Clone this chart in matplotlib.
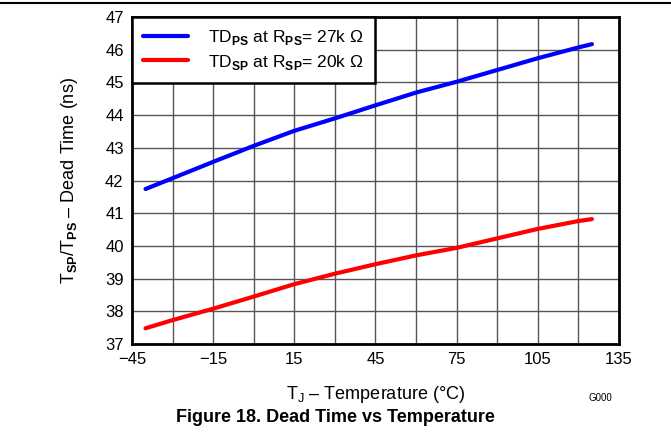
import numpy as np
import matplotlib
matplotlib.use('Agg')
from matplotlib import pyplot as plt
from matplotlib.lines import Line2D

plt.rcParams['font.family'] = ['Liberation Sans', 'DejaVu Sans']
plt.rcParams['mathtext.fontset'] = 'custom'
plt.rcParams['mathtext.rm'] = 'Liberation Sans'
plt.rcParams['mathtext.bf'] = 'Liberation Sans:bold'

# data
temp = [-40, -30, -15, 0, 15, 30, 45, 60, 75, 90, 105, 120, 125]
td_ps = [41.74, 42.07, 42.57, 43.06, 43.52, 43.90, 44.30, 44.69, 45.02, 45.38, 45.74, 46.07, 46.17]
td_sp = [37.48, 37.73, 38.08, 38.45, 38.83, 39.15, 39.44, 39.71, 39.94, 40.23, 40.52, 40.76, 40.82]

xticks = [-45, -15, 15, 45, 75, 105, 135]
xtick_labels = ['\u221245', '\u221215', '15', '45', '75', '105', '135']
yticks = list(range(37, 48))

fig = plt.figure(figsize=(6.71, 4.34), dpi=100)
ax = fig.add_axes([0.1967, 0.2074, 0.7258, 0.7534])

ax.plot(temp, td_ps, color='#0000ff', lw=3.0, solid_capstyle='round',
        label=r'TD$_{\mathbf{PS}}$ at R$_{\mathbf{PS}}$= 27k $\Omega$', zorder=3)
ax.plot(temp, td_sp, color='#ff0000', lw=3.0, solid_capstyle='round',
        label=r'TD$_{\mathbf{SP}}$ at R$_{\mathbf{SP}}$= 20k $\Omega$', zorder=3)

ax.set_xlim(-45, 135)
ax.set_ylim(37, 47)
ax.set_xticks(np.arange(-45, 136, 15), minor=True)
ax.set_xticks(xticks)
ax.set_xticklabels(xtick_labels)
ax.set_yticks(yticks)
ax.tick_params(which='both', length=0, labelsize=12, pad=6)
ax.grid(which='both', color='#555555', lw=1.0)
ax.set_axisbelow(True)
for s in ax.spines.values():
    s.set_linewidth(2)
    s.set_color('black')

ax.set_xlabel('T$_\\mathrm{J}$ \u2013 Temperature (\u00b0C)', fontsize=13, labelpad=12)
ax.set_ylabel('T$_{\\mathbf{SP}}$/T$_{\\mathbf{PS}}$ \u2013 Dead Time (ns)', fontsize=13, labelpad=18)

leg = ax.legend(loc='upper left', fontsize=12.5, frameon=True, fancybox=False,
                borderaxespad=0, handlelength=2.6, handletextpad=1.1,
                borderpad=0.65, labelspacing=0.3, framealpha=1)
leg.get_frame().set_edgecolor('black')
leg.get_frame().set_linewidth(1.8)

fig.add_artist(Line2D([0, 1], [1 - 3/434, 1 - 3/434], color='black', lw=1.5))
fig.text(600/671, 1 - 398/434, 'G000', fontsize=7, ha='center', va='center')
fig.text(335/671, 1 - 417/434, 'Figure 18. Dead Time vs Temperature',
         fontsize=13, fontweight='bold', ha='center', va='center')

plt.savefig('out.png', dpi=100)
